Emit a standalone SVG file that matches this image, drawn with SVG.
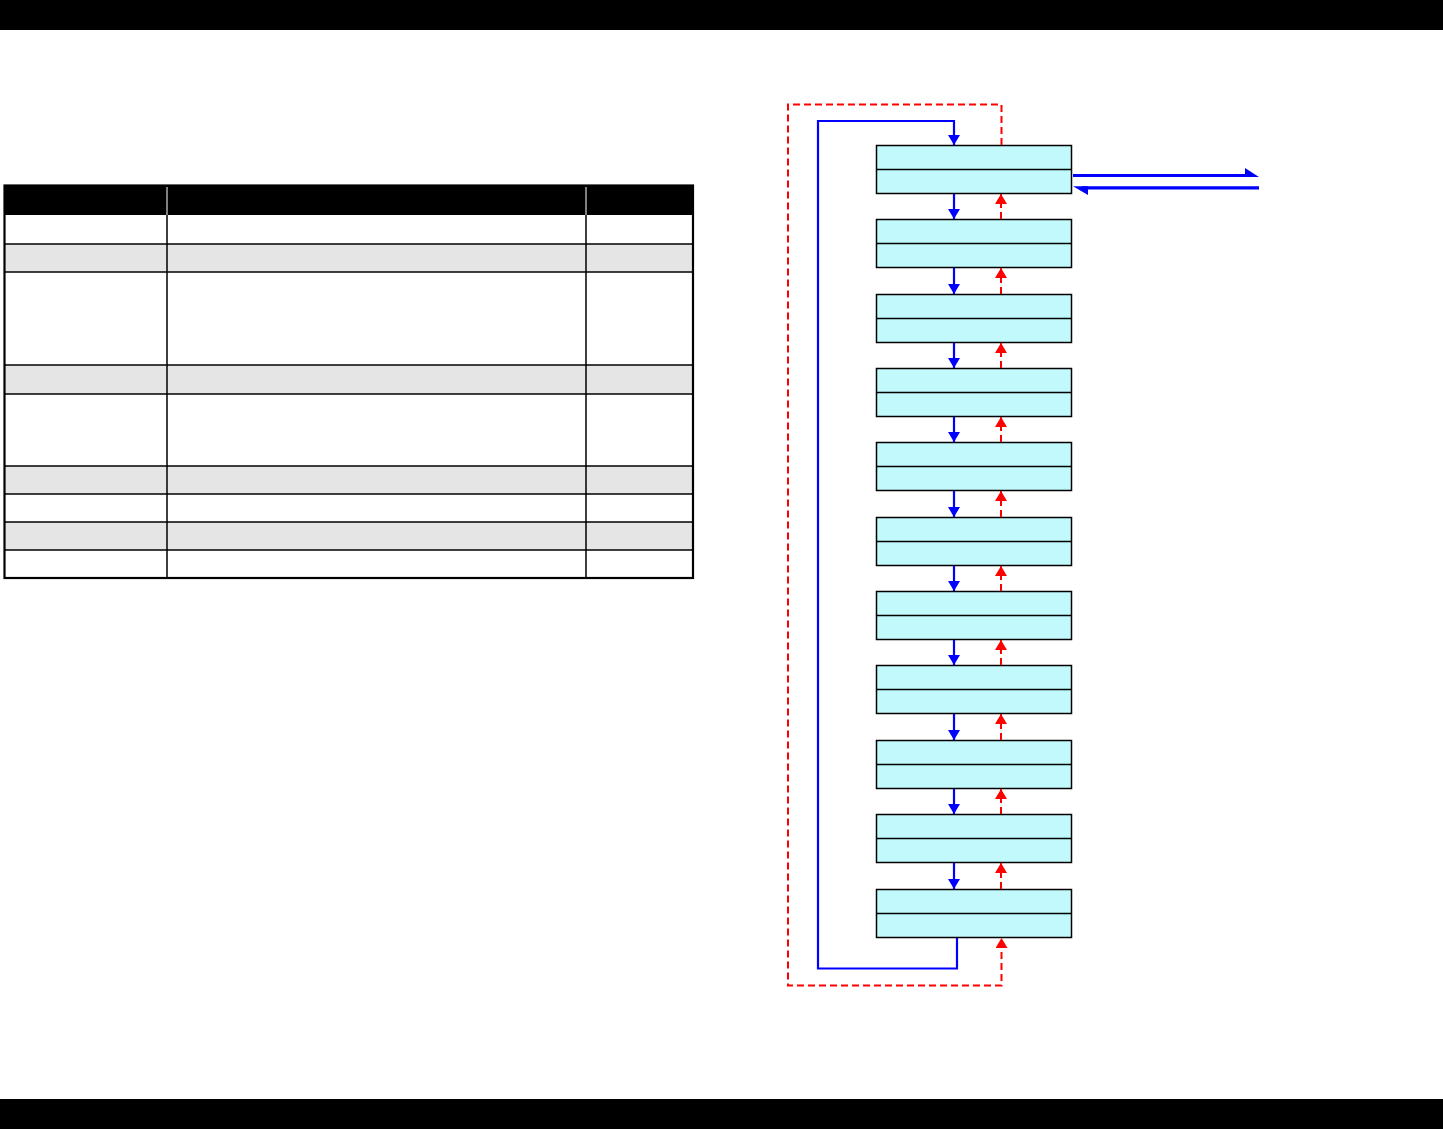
<svg xmlns="http://www.w3.org/2000/svg" width="1443" height="1129" viewBox="0 0 1443 1129">
<style>
.bar{fill:#000}
.grey{fill:#E5E5E5}
.tl{stroke:#000;stroke-width:1.5;fill:none}
.box{fill:#C2F9FC;stroke:#000;stroke-width:1.5}
.mid{stroke:#000;stroke-width:1.5}
.blue{stroke:#0000FF;stroke-width:2.2;fill:none}
.red{stroke:#FF0000;stroke-width:2;fill:none;stroke-dasharray:7 4}
</style>
<defs>
<marker id="ab" markerUnits="userSpaceOnUse" markerWidth="10" markerHeight="12" refX="10" refY="6" orient="auto"><path d="M0,0 L10,6 L0,12 z" fill="#0000FF"/></marker>
<marker id="ar" markerUnits="userSpaceOnUse" markerWidth="10" markerHeight="12" refX="10" refY="6" orient="auto"><path d="M0,0 L10,6 L0,12 z" fill="#FF0000"/></marker>
</defs>
<rect width="1443" height="1129" fill="#fff"/>
<rect class="bar" x="0" y="0" width="1443" height="30"/>
<rect class="bar" x="0" y="1099" width="1443" height="30"/>

<g id="table">
<rect x="4" y="185" width="689" height="30" fill="#000"/>
<line x1="167" y1="187" x2="167" y2="215" stroke="#fff" stroke-width="1"/>
<line x1="586" y1="187" x2="586" y2="215" stroke="#fff" stroke-width="1"/>
<rect class="grey" x="4" y="244" width="689" height="28"/>
<rect class="grey" x="4" y="365" width="689" height="29"/>
<rect class="grey" x="4" y="466" width="689" height="28"/>
<rect class="grey" x="4" y="522" width="689" height="28"/>
<path class="tl" d="M4,244H693M4,272H693M4,365H693M4,394H693M4,466H693M4,494H693M4,522H693M4,550H693M167,215V578M586,215V578"/>
<rect x="4.5" y="185.5" width="688.5" height="392.5" fill="none" stroke="#000" stroke-width="2.2"/>
</g>

<g id="n1"><rect class="box" x="876.5" y="145.5" width="195" height="48"/><line class="mid" x1="876.5" y1="169.5" x2="1071.5" y2="169.5"/></g>
<g id="n2"><rect class="box" x="876.5" y="219.5" width="195" height="48"/><line class="mid" x1="876.5" y1="243.5" x2="1071.5" y2="243.5"/></g>
<g id="n3"><rect class="box" x="876.5" y="294.5" width="195" height="48"/><line class="mid" x1="876.5" y1="318.5" x2="1071.5" y2="318.5"/></g>
<g id="n4"><rect class="box" x="876.5" y="368.5" width="195" height="48"/><line class="mid" x1="876.5" y1="392.5" x2="1071.5" y2="392.5"/></g>
<g id="n5"><rect class="box" x="876.5" y="442.5" width="195" height="48"/><line class="mid" x1="876.5" y1="466.5" x2="1071.5" y2="466.5"/></g>
<g id="n6"><rect class="box" x="876.5" y="517.5" width="195" height="48"/><line class="mid" x1="876.5" y1="541.5" x2="1071.5" y2="541.5"/></g>
<g id="n7"><rect class="box" x="876.5" y="591.5" width="195" height="48"/><line class="mid" x1="876.5" y1="615.5" x2="1071.5" y2="615.5"/></g>
<g id="n8"><rect class="box" x="876.5" y="665.5" width="195" height="48"/><line class="mid" x1="876.5" y1="689.5" x2="1071.5" y2="689.5"/></g>
<g id="n9"><rect class="box" x="876.5" y="740.5" width="195" height="48"/><line class="mid" x1="876.5" y1="764.5" x2="1071.5" y2="764.5"/></g>
<g id="n10"><rect class="box" x="876.5" y="814.5" width="195" height="48"/><line class="mid" x1="876.5" y1="838.5" x2="1071.5" y2="838.5"/></g>
<g id="n11"><rect class="box" x="876.5" y="889.5" width="195" height="48"/><line class="mid" x1="876.5" y1="913.5" x2="1071.5" y2="913.5"/></g>

<g id="connectors">
<path class="blue" d="M957,938 V968.5 H818 V121 H954 V145" marker-end="url(#ab)"/>
<path class="red" d="M1001.5,145 V104.5 H788 V985.5 H1001.5 V938" marker-end="url(#ar)"/>
<path class="blue" d="M954,194 V219" marker-end="url(#ab)"/>
<path class="blue" d="M954,268 V294" marker-end="url(#ab)"/>
<path class="blue" d="M954,343 V368" marker-end="url(#ab)"/>
<path class="blue" d="M954,417 V442" marker-end="url(#ab)"/>
<path class="blue" d="M954,491 V517" marker-end="url(#ab)"/>
<path class="blue" d="M954,566 V591" marker-end="url(#ab)"/>
<path class="blue" d="M954,640 V665" marker-end="url(#ab)"/>
<path class="blue" d="M954,714 V740" marker-end="url(#ab)"/>
<path class="blue" d="M954,789 V814" marker-end="url(#ab)"/>
<path class="blue" d="M954,863 V889" marker-end="url(#ab)"/>
<path class="red" d="M1001,219 V194" marker-end="url(#ar)"/>
<path class="red" d="M1001,294 V268" marker-end="url(#ar)"/>
<path class="red" d="M1001,368 V343" marker-end="url(#ar)"/>
<path class="red" d="M1001,442 V417" marker-end="url(#ar)"/>
<path class="red" d="M1001,517 V491" marker-end="url(#ar)"/>
<path class="red" d="M1001,591 V566" marker-end="url(#ar)"/>
<path class="red" d="M1001,665 V640" marker-end="url(#ar)"/>
<path class="red" d="M1001,740 V714" marker-end="url(#ar)"/>
<path class="red" d="M1001,814 V789" marker-end="url(#ar)"/>
<path class="red" d="M1001,889 V863" marker-end="url(#ar)"/>
<line x1="1073" y1="175.5" x2="1250" y2="175.5" stroke="#0000FF" stroke-width="3"/>
<polygon points="1245,168 1259,177 1245,177" fill="#0000FF"/>
<line x1="1082" y1="187.8" x2="1259" y2="187.8" stroke="#0000FF" stroke-width="3.2"/>
<polygon points="1073,186.2 1088,186.2 1088,195" fill="#0000FF"/>
</g>
</svg>
